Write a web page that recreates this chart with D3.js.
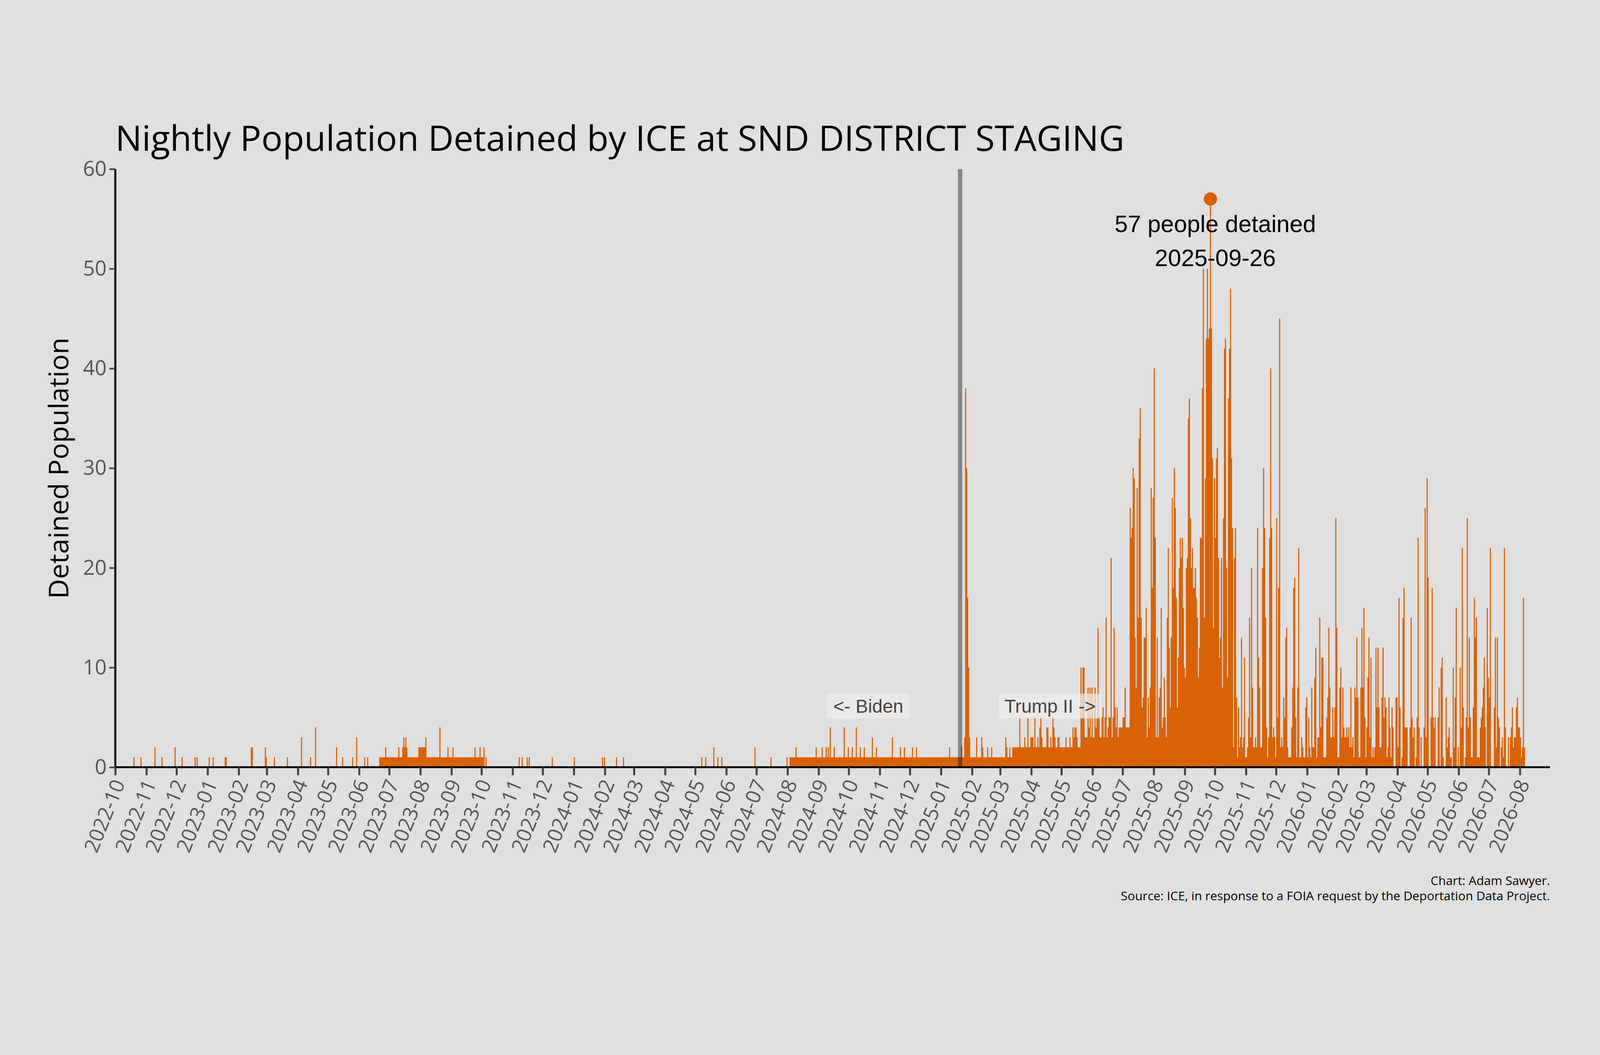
<!DOCTYPE html>
<html><head><meta charset="utf-8">
<script src="https://cdn.jsdelivr.net/npm/d3@7"></script>
<style>html,body{margin:0;padding:0;background:#e0e0e0;overflow:hidden;width:100vw;height:100vh;}svg{display:block;width:100vw;height:100vh;}</style>
</head><body>
<script>
// ---------- DATA ----------
const baseSegments = [
  ["2023-06-21","2023-10-03",1],
  ["2024-08-03","2025-03-13",1],
  ["2025-03-14","2025-05-19",2]
];
const spikeDates = [
 "2022-10-19","2022-10-26","2022-11-09","2022-11-16","2022-11-29","2022-12-06","2022-12-19","2022-12-21",
 "2023-01-02","2023-01-06","2023-01-18","2023-01-19","2023-02-13","2023-02-14","2023-02-27","2023-02-28",
 "2023-03-08","2023-03-21","2023-04-04","2023-04-13","2023-04-18","2023-05-09","2023-05-15","2023-05-25",
 "2023-05-29","2023-06-06","2023-06-09",
 "2023-06-27","2023-07-10","2023-07-14","2023-07-15","2023-07-16","2023-07-17","2023-07-18",
 "2023-07-30","2023-07-31","2023-08-01","2023-08-02","2023-08-03","2023-08-04","2023-08-05","2023-08-06",
 "2023-08-20","2023-08-28","2023-09-02","2023-09-24","2023-09-29","2023-10-03","2023-10-05",
 "2023-11-07","2023-11-10","2023-11-15","2023-11-17","2023-12-10","2024-01-01","2024-01-29","2024-01-31",
 "2024-02-12","2024-02-19","2024-05-07","2024-05-11","2024-05-19","2024-05-23","2024-05-27","2024-06-29",
 "2024-07-15","2024-07-31",
 "2024-08-09","2024-08-29","2024-09-04","2024-09-08","2024-09-10","2024-09-12","2024-09-16","2024-09-26",
 "2024-09-30","2024-10-04","2024-10-08","2024-10-12","2024-10-16","2024-10-24","2024-10-28","2024-11-13",
 "2024-11-21","2024-11-25","2024-12-03","2024-12-07","2025-01-09",
 "2025-01-21","2025-01-24","2025-01-25","2025-01-26","2025-01-27","2025-01-28","2025-01-29",
 "2025-02-05","2025-02-10","2025-02-11","2025-02-16","2025-02-20","2025-03-06","2025-03-07","2025-03-10","2025-03-13",
 "2025-03-20","2025-03-25","2025-03-28","2025-03-31","2025-04-01","2025-04-02","2025-04-04","2025-04-07",
 "2025-04-09","2025-04-10","2025-04-11","2025-04-16","2025-04-17","2025-04-20","2025-04-22","2025-04-23",
 "2025-04-24","2025-04-27","2025-04-28","2025-05-05","2025-05-09","2025-05-12","2025-05-13","2025-05-14",
 "2025-05-15","2025-05-16"
];
const spikeValues = [
 1,1,2,1,2,1,1,1,
 1,1,1,1,2,2,2,1,
 1,1,3,1,4,2,1,1,
 3,1,1,
 2,2,2,3,2,3,2,
 2,2,2,2,2,2,2,3,
 4,2,2,2,2,2,1,
 1,1,1,1,1,1,1,1,
 1,1,1,1,2,1,1,2,
 1,1,
 2,2,2,2,2,4,2,4,
 2,2,4,2,2,3,2,3,
 2,2,2,2,2,
 2,3,38,30,17,10,3,
 3,3,2,2,2,3,2,2,2,
 5,3,5,3,3,3,5,3,
 4,5,3,4,4,3,5,4,
 3,3,3,3,3,4,3,4,
 4,3
];
const denseStart = "2025-05-20";
const denseValues = [
 10,5,10,10,3,3,3,8,4,8,3,8,3,3,8,4,5,14,5,3,3,5,6,3,5,15,3,4,5,5,21,3,5,14,6,4,6,3,
 4,4,4,4,5,5,8,4,4,4,4,
 26,23,24,30,29,13,8,28,15,33,36,15,6,7,13,13,16,3,7,4,8,28,18,27,
 40,23,3,13,3,7,8,16,4,5,9,5,3,15,22,12,6,13,27,18,30,26,17,6,11,20,23,21,23,16,10,
 9,20,21,35,37,25,20,22,18,18,20,17,15,9,12,23,23,38,50,15,29,43,50,43,44,
 57,
 44,31,14,29,23,31,32,21,11,13,21,8,25,42,43,20,9,37,42,48,31,24,2,21,24,7,1,6,2,3,
 13,2,3,11,1,1,2,5,15,3,20,8,2,2,3,2,24,11,8,2,2,20,30,24,15,4,1,3,23,40,
 24,3,4,3,1,25,5,18,45,2,3,2,7,5,13,14,2,1,1,1,4,8,18,19,5,1,8,22,
 1,1,3,2,1,1,6,7,1,5,2,1,8,2,2,9,12,1,3,3,15,4,11,11,1,1,1,5,7,14,8,3,3,6,3,6,25,14,1,1,
 8,10,3,8,4,3,3,4,3,4,2,8,2,3,1,8,7,13,7,1,1,8,14,8,16,5,1,4,9,13,3,11,1,2,1,2,12,6,12,6,
 2,2,7,12,5,7,6,1,2,7,4,1,6,4,0,0,7,7,2,17,6,0,1,15,18,4,4,4,0,0,4,15,5,3,4,0,1,5,23,4,
 0,3,0,0,4,26,3,29,19,0,0,5,18,5,4,5,0,0,5,8,0,10,11,1,0,0,7,2,3,4,1,1,0,10,2,7,16,0,2,0,
 10,4,22,6,0,1,5,25,4,13,5,1,1,6,17,13,15,1,1,1,4,5,6,8,11,4,0,16,9,7,22,0,0,0,6,13,2,13,5,4,
 0,2,3,1,22,4,0,0,3,0,3,4,6,2,3,3,6,7,4,4,3,1,2,17,2
];
const yTicks = [0,10,20,30,40,50,60];
const peakDate = "2025-09-26", peakValue = 57;
const inaugDate = "2025-01-20";

// ---------- BUILD ----------
const W = 4800, H = 2700;
const parse = d3.utcParse("%Y-%m-%d");
const vals = new Map();
baseSegments.forEach(([a,b,v]) => d3.utcDay.range(parse(a), d3.utcDay.offset(parse(b),1)).forEach(d => vals.set(+d, v)));
spikeDates.forEach((s,i) => vals.set(+parse(s), spikeValues[i]));
denseValues.forEach((v,i) => vals.set(+d3.utcDay.offset(parse(denseStart), i), v));
const data = Array.from(vals, ([t,v]) => ({date:new Date(t), v})).filter(d => d.v > 0);

const svg = d3.select("body").append("svg").attr("viewBox",`0 0 ${W} ${H}`)
  .attr("preserveAspectRatio","xMidYMid meet").style("background","#e0e0e0");
const x = d3.scaleUtc().domain([parse("2022-10-01"), parse("2026-08-31")]).range([346, 4650]);
const y = d3.scaleLinear().domain([0,60]).range([2069, 275]);
const FONT = "'Open Sans','Noto Sans',sans-serif";
const orange = "#d95f02";

svg.selectAll("rect.bar").data(data).join("rect").attr("class","bar")
  .attr("x", d => x(d.date)).attr("width", d => x(d3.utcDay.offset(d.date,1)) - x(d.date) + 0.3)
  .attr("y", d => y(d.v)).attr("height", d => y(0) - y(d.v)).attr("fill", orange);

// inauguration line
svg.append("line").attr("x1", x(parse(inaugDate))).attr("x2", x(parse(inaugDate)))
  .attr("y1", y(60)).attr("y2", y(0)).attr("stroke","#000").attr("stroke-opacity",0.4).attr("stroke-width",13);

// x axis
const months = d3.utcMonth.range(parse("2022-10-01"), parse("2026-08-02"));
const xa = svg.append("g").attr("transform",`translate(0,${y(0)})`)
  .call(d3.axisBottom(x).tickValues(months).tickFormat(d3.utcFormat("%Y-%m")).tickSize(24).tickSizeOuter(0));
xa.select(".domain").attr("stroke","#000").attr("stroke-width",6).attr("d",`M346,0H4650`);
xa.selectAll(".tick line").attr("stroke","#444").attr("stroke-width",6);
xa.selectAll(".tick text").attr("font-family",FONT).attr("font-size",61).attr("fill","#555")
  .attr("text-anchor","end").attr("dy","0.35em").attr("transform","translate(10,40) rotate(-68)").attr("y",0).attr("x",0);

// y axis
const ya = svg.append("g").attr("transform",`translate(346,0)`)
  .call(d3.axisLeft(y).tickValues(yTicks).tickSize(18).tickPadding(8));
ya.select(".domain").attr("stroke","#000").attr("stroke-width",6).attr("d",`M0,${y(60)}V${y(0)}`);
ya.selectAll(".tick line").attr("stroke","#444").attr("stroke-width",5);
ya.selectAll(".tick text").attr("font-family",FONT).attr("font-size",62).attr("fill","#555");

svg.append("text").attr("transform",`translate(205,1172) rotate(-90)`).attr("text-anchor","middle")
  .attr("font-family",FONT).attr("font-size",82).attr("fill","#000").text("Detained Population");

svg.append("text").attr("x",346).attr("y",220).attr("font-family",FONT).attr("font-size",106)
  .attr("fill","#000").text("Nightly Population Detained by ICE at SND DISTRICT STAGING");

// era labels
const ANN = "'Liberation Sans',Arial,sans-serif";
[["<- Biden", 2605],["Trump II ->", 3150]].forEach(([t,cx]) => {
  const g = svg.append("g");
  const tx = g.append("text").attr("x",cx).attr("y",1905).attr("text-anchor","middle")
    .attr("font-family",ANN).attr("font-size",56).attr("fill","#444").text(t);
  const bb = tx.node().getBBox();
  g.insert("rect","text").attr("x",bb.x-18).attr("y",bb.y-6).attr("width",bb.width+36).attr("height",bb.height+12)
    .attr("fill","#ececec").attr("fill-opacity",0.7);
});

// peak annotation
const pd = parse(peakDate);
const px = (x(pd) + x(d3.utcDay.offset(pd,1))) / 2;
svg.append("circle").attr("cx",px).attr("cy",y(peakValue)).attr("r",20).attr("fill",orange);
svg.append("text").attr("x",3646).attr("y",464).attr("text-anchor","middle").attr("font-family",ANN)
  .attr("font-size",71).attr("fill","#000").text(`${peakValue} people detained`);
svg.append("text").attr("x",3646).attr("y",566).attr("text-anchor","middle").attr("font-family",ANN)
  .attr("font-size",71).attr("fill","#000").text(peakDate);

// source
svg.append("text").attr("x",4650).attr("y",2422).attr("text-anchor","end").attr("font-family",FONT)
  .attr("font-size",37).attr("fill","#000").text("Chart: Adam Sawyer.");
svg.append("text").attr("x",4650).attr("y",2468).attr("text-anchor","end").attr("font-family",FONT)
  .attr("font-size",37).attr("fill","#000").text("Source: ICE, in response to a FOIA request by the Deportation Data Project.");
</script>
</body></html>
